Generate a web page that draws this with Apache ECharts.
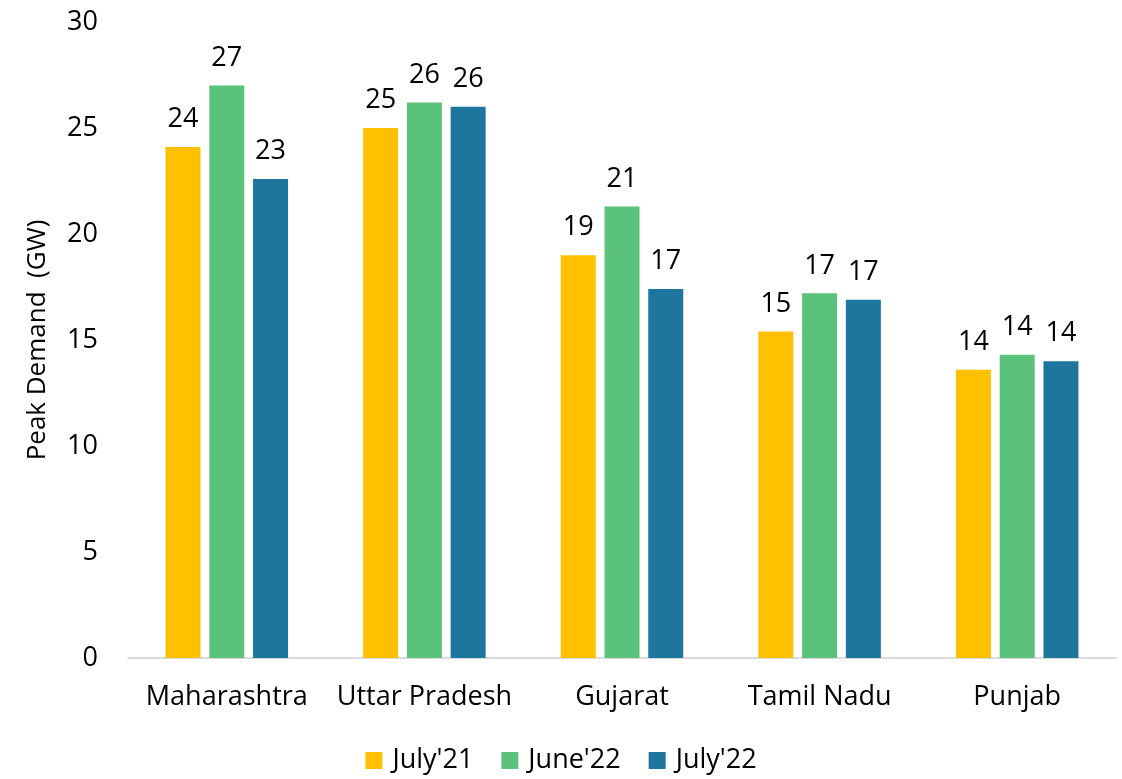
<!DOCTYPE html>
<html>
<head>
<meta charset="utf-8">
<script src="https://cdn.jsdelivr.net/npm/echarts@6/dist/echarts.min.js"></script>
<style>
  html, body { margin: 0; padding: 0; background: #fff; }
  #chart { width: 1122px; height: 779px; }
</style>
</head>
<body>
<div id="chart"></div>
<script>
const states = ['Maharashtra', 'Uttar Pradesh', 'Gujarat', 'Tamil Nadu', 'Punjab']
const july21 = [24.1, 25.0, 19.0, 15.4, 13.6]
const june22 = [27.0, 26.2, 21.3, 17.2, 14.3]
const july22 = [22.6, 26.0, 17.4, 16.9, 14.0]

const font = '"Open Sans", sans-serif'

function bar(name, data, color) {
  return {
    name: name,
    type: 'bar',
    data: data,
    barWidth: 35,
    barGap: '25%',
    itemStyle: { color: color },
    label: {
      show: true,
      position: 'top',
      distance: 14,
      color: '#000',
      fontSize: 27,
      fontFamily: font,
      formatter: p => Math.round(p.value)
    }
  }
}

const chart = echarts.init(document.getElementById('chart'))
chart.setOption({
  animation: false,
  textStyle: { fontFamily: font },
  grid: { left: 128, right: 6, top: 22, bottom: 121 },
  legend: {
    bottom: 0,
    left: 'center',
    itemWidth: 17,
    itemHeight: 17,
    itemGap: 28,
    icon: 'rect',
    textStyle: { fontSize: 27, color: '#000', fontFamily: font, padding: [0, 0, 0, 5] },
    data: ["July'21", "June'22", "July'22"]
  },
  xAxis: {
    type: 'category',
    data: states,
    axisTick: { show: false },
    axisLine: { lineStyle: { color: '#d0d0d0', width: 1.5 } },
    axisLabel: { color: '#000', fontSize: 27, margin: 26, interval: 0, fontFamily: font }
  },
  yAxis: {
    type: 'value',
    min: 0,
    max: 30,
    interval: 5,
    name: 'Peak Demand  (GW)',
    nameLocation: 'middle',
    nameGap: 77,
    nameTextStyle: { color: '#000', fontSize: 26, fontFamily: font },
    splitLine: { show: false },
    axisLine: { show: false },
    axisLabel: { color: '#000', fontSize: 27, margin: 30, fontFamily: font }
  },
  series: [
    bar("July'21", july21, '#FFC000'),
    bar("June'22", june22, '#5BC27B'),
    bar("July'22", july22, '#1C769E')
  ]
})
</script>
</body>
</html>
